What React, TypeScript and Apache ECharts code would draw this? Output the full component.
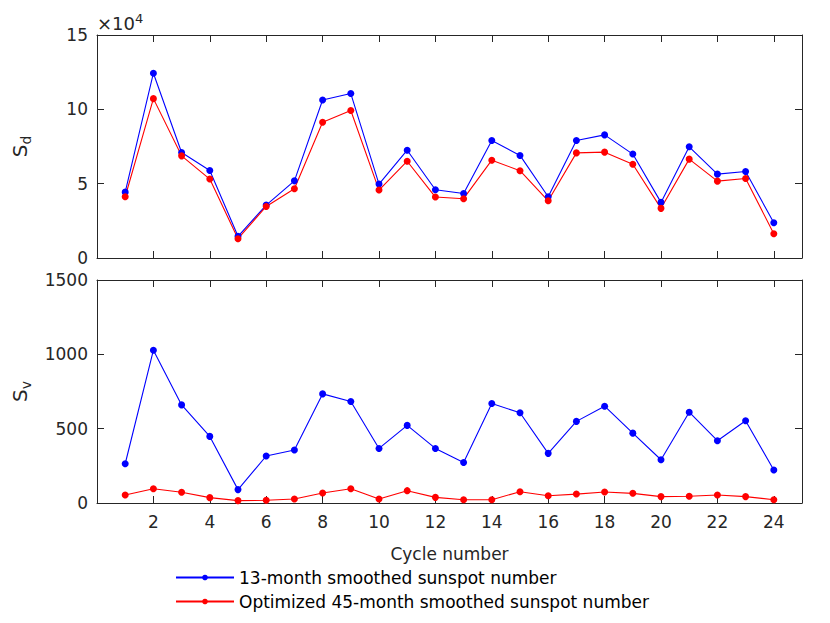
import React, { useEffect, useRef } from "react";
import * as echarts from "echarts";

const cycles = [1,2,3,4,5,6,7,8,9,10,11,12,13,14,15,16,17,18,19,20,21,22,23,24];
const sd13 = [4.43,12.43,7.10,5.89,1.46,3.56,5.19,10.63,11.06,4.97,7.25,4.59,4.34,7.90,6.90,4.12,7.90,8.28,6.99,3.74,7.48,5.64,5.82,2.37];
const sd45 = [4.12,10.72,6.87,5.31,1.30,3.47,4.66,9.13,9.92,4.57,6.51,4.10,3.99,6.58,5.87,3.85,7.07,7.12,6.31,3.34,6.65,5.17,5.35,1.63];
const sv13 = [264,1028,660,448,90,316,356,734,683,367,522,367,273,669,607,334,549,651,470,291,611,419,553,222];
const sv45 = [54,96,72,36,16,18,27,67,96,27,83,38,22,22,76,49,60,74,65,43,45,54,43,22];
const legendNames = ["13-month smoothed sunspot number", "Optimized 45-month smoothed sunspot number"];
const sdTicks = [0, 5, 10, 15];
const svTicks = [0, 500, 1000, 1500];

const FONT = "DejaVu Sans";
const AX = "#262626";

export default function App() {
  const ref = useRef<HTMLDivElement>(null);
  useEffect(() => {
    if (!ref.current) return;
    const chart = echarts.init(ref.current, undefined, { renderer: "svg" });
    const grids = [
      { left: 97, right: 28, top: 35, height: 223 },
      { left: 97, right: 28, top: 280, height: 223 },
    ];
    const axisLine = { show: true, onZero: false, lineStyle: { color: AX, width: 1 } };
    const tick = { show: true, inside: true, length: 7, lineStyle: { color: AX } };
    const xBase = (gi: number, pos: string, showLabel: boolean) => ({
      type: "value",
      gridIndex: gi,
      position: pos,
      min: 0,
      max: 25,
      interval: 2,
      axisLine,
      axisTick: tick,
      splitLine: { show: false },
      axisLabel: {
        show: showLabel,
        fontFamily: FONT,
        fontSize: 17,
        color: AX,
        margin: 10,
        showMaxLabel: false,
        formatter: (v: number) => (v === 0 || v === 25 ? "" : String(v)),
      },
    });
    const yBase = (gi: number, pos: string, showLabel: boolean, ticks: number[], scale: number) => ({
      type: "value",
      gridIndex: gi,
      position: pos,
      min: ticks[0] * scale,
      max: ticks[ticks.length - 1] * scale,
      interval: (ticks[1] - ticks[0]) * scale,
      axisLine,
      axisTick: tick,
      splitLine: { show: false },
      axisLabel: {
        show: showLabel,
        fontFamily: FONT,
        fontSize: 17,
        color: AX,
        margin: 9,
        formatter: (v: number) => String(v / scale),
      },
    });
    const symbolRich = {
      a: { fontFamily: FONT, fontSize: 20, color: AX },
      b: { fontFamily: FONT, fontSize: 14, color: AX, padding: [12, 0, 0, 0] },
    };
    const yd: any = yBase(0, "left", true, sdTicks, 10000);
    yd.name = "{a|S}{b|d}";
    yd.nameLocation = "middle";
    yd.nameGap = 64;
    yd.nameTextStyle = { rich: symbolRich };
    const yv: any = yBase(1, "left", true, svTicks, 1);
    yv.name = "{a|S}{b|v}";
    yv.nameLocation = "middle";
    yv.nameGap = 64;
    yv.nameTextStyle = { rich: symbolRich };
    const xb: any = xBase(1, "bottom", true);
    xb.name = "Cycle number";
    xb.nameLocation = "middle";
    xb.nameGap = 42;
    xb.nameTextStyle = { fontFamily: FONT, fontSize: 17, color: AX };

    const mk = (name: string, color: string, xi: number, data: number[], scale: number) => ({
      type: "line",
      name,
      xAxisIndex: xi,
      yAxisIndex: xi,
      data: cycles.map((c, i) => [c, data[i] * scale]),
      symbol: "circle",
      symbolSize: 7,
      showSymbol: true,
      lineStyle: { color, width: 1.1 },
      itemStyle: { color },
    });

    chart.setOption({
      animation: false,
      backgroundColor: "#fff",
      grid: grids,
      xAxis: [xBase(0, "bottom", false), xb, xBase(0, "top", false), xBase(1, "top", false)],
      yAxis: [yd, yv, yBase(0, "right", false, sdTicks, 10000), yBase(1, "right", false, svTicks, 1)],
      legend: {
        orient: "vertical",
        left: 170,
        top: 564,
        itemWidth: 58,
        itemHeight: 7,
        itemGap: 7,
        textStyle: { fontFamily: FONT, fontSize: 17, color: "#000" },
        data: legendNames,
      },
      graphic: [
        {
          type: "text",
          left: 97,
          top: 12,
          style: {
            text: "×10{s|4}",
            fontFamily: FONT,
            fontSize: 18,
            fill: AX,
            rich: {
              s: { fontFamily: FONT, fontSize: 13, color: AX, padding: [0, 0, 10, 0] },
            },
          },
        },
      ],
      series: [
        mk(legendNames[0], "#0000ff", 0, sd13, 10000),
        mk(legendNames[1], "#ff0000", 0, sd45, 10000),
        mk(legendNames[0], "#0000ff", 1, sv13, 1),
        mk(legendNames[1], "#ff0000", 1, sv45, 1),
      ],
    });
    return () => chart.dispose();
  }, []);
  return <div ref={ref} style={{ position: "fixed", left: 0, top: 0, width: 830, height: 623 }} />;
}
